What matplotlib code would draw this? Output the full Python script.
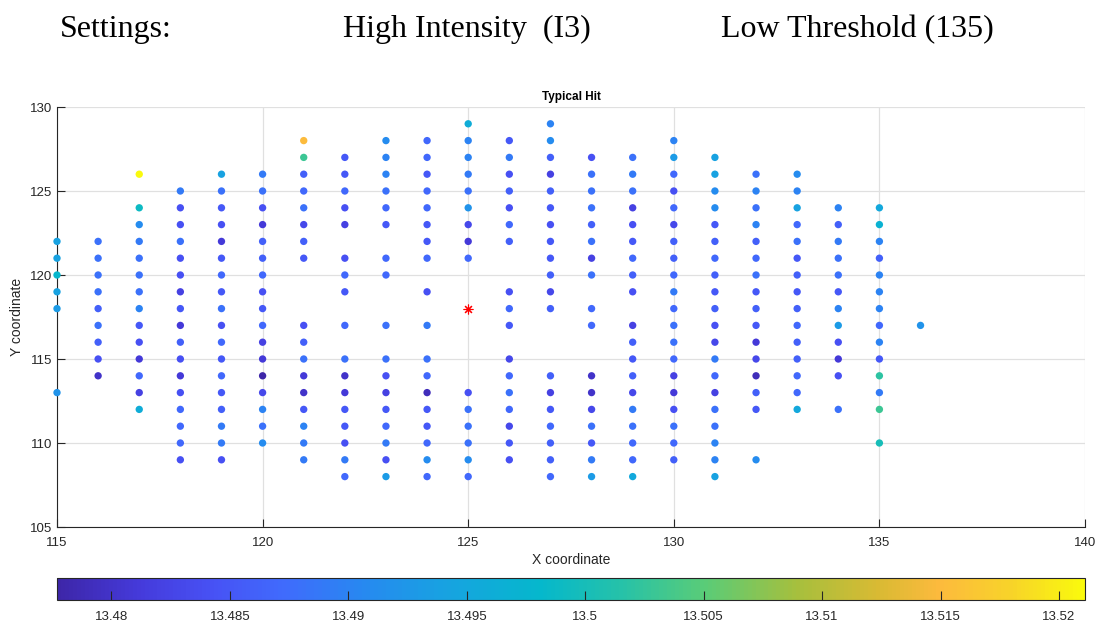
import numpy as np
import matplotlib
matplotlib.use('Agg')
import matplotlib.pyplot as plt
from matplotlib.colors import LinearSegmentedColormap

# data: one column of grid points per x, values top-down
col_x = [115, 116, 117, 118, 119, 120, 121, 122, 123, 124, 125,
         126, 127, 128, 129, 130, 131, 132, 133, 134, 135, 136]
col_y = [
    [122, 121, 120, 119, 118, 113],
    [122, 121, 120, 119, 118, 117, 116, 115, 114],
    [126, 124, 123, 122, 121, 120, 119, 118, 117, 116, 115, 114, 113, 112],
    [125, 124, 123, 122, 121, 120, 119, 118, 117, 116, 115, 114, 113, 112, 111, 110, 109],
    [126, 125, 124, 123, 122, 121, 120, 119, 118, 117, 116, 115, 114, 113, 112, 111, 110, 109],
    [126, 125, 124, 123, 122, 121, 120, 119, 118, 117, 116, 115, 114, 113, 112, 111, 110],
    [128, 127, 126, 125, 124, 123, 122, 121, 117, 116, 115, 114, 113, 112, 111, 110, 109],
    [127, 126, 125, 124, 123, 121, 120, 119, 117, 115, 114, 113, 112, 111, 110, 109, 108],
    [128, 127, 126, 125, 124, 123, 121, 120, 117, 115, 114, 113, 112, 111, 110, 109, 108],
    [128, 127, 126, 125, 124, 123, 122, 121, 119, 117, 115, 114, 113, 112, 111, 110, 109, 108],
    [129, 128, 127, 126, 125, 124, 123, 122, 121, 113, 112, 111, 110, 109, 108],
    [128, 127, 126, 125, 124, 123, 122, 119, 118, 117, 115, 114, 113, 112, 111, 110, 109],
    [129, 128, 127, 126, 125, 124, 123, 122, 121, 120, 119, 118, 114, 113, 112, 111, 110, 109, 108],
    [127, 126, 125, 124, 123, 122, 121, 120, 118, 117, 114, 113, 112, 111, 110, 109, 108],
    [127, 126, 125, 124, 123, 122, 121, 120, 119, 117, 116, 115, 114, 113, 112, 111, 110, 109, 108],
    [128, 127, 126, 125, 124, 123, 122, 121, 120, 119, 118, 117, 116, 115, 114, 113, 112, 111, 110, 109],
    [127, 126, 125, 124, 123, 122, 121, 120, 119, 118, 117, 116, 115, 114, 113, 112, 111, 110, 109, 108],
    [126, 125, 124, 123, 122, 121, 120, 119, 118, 117, 116, 115, 114, 113, 112, 109],
    [126, 125, 124, 123, 122, 121, 120, 119, 118, 117, 116, 115, 114, 113, 112],
    [124, 123, 122, 121, 120, 119, 118, 117, 116, 115, 114, 112],
    [124, 123, 122, 121, 120, 119, 118, 117, 116, 115, 114, 113, 112, 110],
    [117],
]
col_val = [
    [13.494, 13.494, 13.498, 13.494, 13.493, 13.492],
    [13.488, 13.488, 13.488, 13.488, 13.486, 13.488, 13.486, 13.484, 13.480],
    [13.5211, 13.499, 13.491, 13.489, 13.488, 13.488, 13.488, 13.490, 13.485, 13.484, 13.481, 13.487, 13.482, 13.496],
    [13.489, 13.484, 13.484, 13.488, 13.484, 13.484, 13.482, 13.485, 13.481, 13.486, 13.484, 13.481, 13.484, 13.487, 13.487, 13.487, 13.484],
    [13.494, 13.488, 13.485, 13.484, 13.481, 13.485, 13.487, 13.485, 13.488, 13.484, 13.487, 13.485, 13.487, 13.485, 13.486, 13.489, 13.489, 13.484],
    [13.489, 13.488, 13.484, 13.481, 13.486, 13.486, 13.487, 13.484, 13.485, 13.487, 13.482, 13.481, 13.4777, 13.483, 13.490, 13.488, 13.491],
    [13.515, 13.503, 13.486, 13.487, 13.488, 13.483, 13.486, 13.485, 13.484, 13.486, 13.488, 13.481, 13.480, 13.485, 13.490, 13.489, 13.489],
    [13.485, 13.485, 13.487, 13.484, 13.482, 13.484, 13.487, 13.485, 13.487, 13.488, 13.480, 13.481, 13.485, 13.485, 13.484, 13.489, 13.487],
    [13.491, 13.490, 13.490, 13.488, 13.487, 13.485, 13.487, 13.487, 13.488, 13.488, 13.484, 13.482, 13.485, 13.487, 13.489, 13.484, 13.493],
    [13.487, 13.487, 13.485, 13.487, 13.487, 13.485, 13.485, 13.487, 13.484, 13.489, 13.488, 13.487, 13.479, 13.485, 13.485, 13.487, 13.491, 13.487],
    [13.496, 13.490, 13.490, 13.489, 13.488, 13.492, 13.483, 13.481, 13.487, 13.484, 13.488, 13.488, 13.488, 13.491, 13.487],
    [13.485, 13.489, 13.484, 13.486, 13.484, 13.487, 13.486, 13.484, 13.487, 13.485, 13.483, 13.487, 13.488, 13.487, 13.483, 13.485, 13.484],
    [13.490, 13.491, 13.486, 13.482, 13.486, 13.485, 13.484, 13.485, 13.485, 13.486, 13.483, 13.486, 13.486, 13.482, 13.485, 13.487, 13.486, 13.486, 13.487],
    [13.484, 13.488, 13.488, 13.488, 13.486, 13.488, 13.482, 13.488, 13.487, 13.487, 13.480, 13.480, 13.483, 13.488, 13.485, 13.489, 13.493],
    [13.488, 13.489, 13.488, 13.482, 13.484, 13.485, 13.487, 13.486, 13.484, 13.482, 13.486, 13.485, 13.486, 13.483, 13.489, 13.488, 13.487, 13.487, 13.495],
    [13.490, 13.493, 13.487, 13.484, 13.487, 13.483, 13.486, 13.486, 13.487, 13.489, 13.487, 13.488, 13.488, 13.487, 13.482, 13.481, 13.484, 13.488, 13.487, 13.486],
    [13.494, 13.494, 13.491, 13.491, 13.485, 13.486, 13.487, 13.486, 13.485, 13.486, 13.484, 13.483, 13.489, 13.487, 13.482, 13.488, 13.488, 13.490, 13.490, 13.494],
    [13.488, 13.490, 13.488, 13.490, 13.486, 13.487, 13.488, 13.485, 13.486, 13.485, 13.481, 13.483, 13.479, 13.486, 13.485, 13.491],
    [13.491, 13.490, 13.494, 13.487, 13.488, 13.485, 13.486, 13.485, 13.486, 13.487, 13.486, 13.486, 13.487, 13.487, 13.495],
    [13.490, 13.486, 13.489, 13.488, 13.488, 13.485, 13.490, 13.493, 13.484, 13.481, 13.484, 13.488],
    [13.495, 13.497, 13.490, 13.486, 13.490, 13.490, 13.490, 13.487, 13.490, 13.485, 13.502, 13.489, 13.503, 13.500],
    [13.492],
]
hit_x, hit_y = [125], [118]
clim = [13.4777, 13.5211]
cbar_ticks = [13.48, 13.485, 13.49, 13.495, 13.5, 13.505, 13.51, 13.515, 13.52]

xs = np.concatenate([[x] * len(ys) for x, ys in zip(col_x, col_y)])
ys = np.concatenate(col_y)
vals = np.concatenate(col_val)

# parula-like colormap
parula = LinearSegmentedColormap.from_list('parula', [
    (0.00, (0.24, 0.15, 0.66)),
    (0.08, (0.27, 0.23, 0.86)),
    (0.15, (0.28, 0.32, 0.96)),
    (0.22, (0.25, 0.42, 0.99)),
    (0.30, (0.15, 0.54, 0.94)),
    (0.38, (0.09, 0.64, 0.88)),
    (0.47, (0.02, 0.72, 0.80)),
    (0.55, (0.15, 0.76, 0.66)),
    (0.63, (0.35, 0.80, 0.47)),
    (0.72, (0.65, 0.75, 0.24)),
    (0.80, (0.85, 0.73, 0.20)),
    (0.86, (0.99, 0.73, 0.24)),
    (0.93, (0.97, 0.83, 0.16)),
    (1.00, (0.98, 0.98, 0.05)),
])

plt.rcParams['font.family'] = ['Liberation Sans', 'DejaVu Sans']
dark = (0.15, 0.15, 0.15)

fig = plt.figure(figsize=(11, 6.24), dpi=100)

# header line above the plot
serif = ['Liberation Serif', 'DejaVu Serif']
hy = 1 - 37 / 624
fig.text(60 / 1100, hy, 'Settings:', family=serif, fontsize=23, va='baseline')
fig.text(343 / 1100, hy, 'High Intensity  (I3)', family=serif, fontsize=23, va='baseline')
fig.text(721 / 1100, hy, 'Low Threshold (135)', family=serif, fontsize=23, va='baseline')

ax = fig.add_axes([57 / 1100, 1 - 527 / 624, 1028 / 1100, 420 / 624])
sc = ax.scatter(xs, ys, c=vals, cmap=parula, vmin=clim[0], vmax=clim[1],
                s=28, linewidths=0, zorder=3, clip_on=False)
ax.plot(hit_x, hit_y, linestyle='none', marker=(8, 2, 0), color='red',
        markersize=7, markeredgewidth=0.8, zorder=4)

ax.set_xlim(115, 140)
ax.set_ylim(105, 130)
ax.set_xticks(range(115, 141, 5))
ax.set_yticks(range(105, 131, 5))
ax.grid(True, color=(0.88, 0.88, 0.88), linewidth=0.9, zorder=0)
ax.set_axisbelow(True)
for side in ['top', 'right']:
    ax.spines[side].set_visible(False)
for side in ['left', 'bottom']:
    ax.spines[side].set_color(dark)
    ax.spines[side].set_linewidth(0.8)
ax.tick_params(direction='in', length=6, width=0.8, color=dark, labelcolor=dark, labelsize=9.5)
ax.tick_params(axis='x', pad=7)
ax.set_title('Typical Hit', fontsize=8.5, fontweight='bold', color='black', pad=5)
ax.set_xlabel('X coordinate', fontsize=10, color=dark, labelpad=3)
ax.set_ylabel('Y coordinate', fontsize=10, color=dark, labelpad=4)

cax = fig.add_axes([57 / 1100, 1 - 600 / 624, 1028 / 1100, 22 / 624])
cb = fig.colorbar(sc, cax=cax, orientation='horizontal', ticks=cbar_ticks)
cb.ax.set_xticklabels(['%g' % t for t in cbar_ticks])
cb.ax.tick_params(direction='in', length=6.5, width=0.8, color=dark, labelcolor=dark,
                  labelsize=9.5, pad=8)
cb.outline.set_edgecolor(dark)
cb.outline.set_linewidth(0.8)

fig.savefig('out.png', dpi=100)
